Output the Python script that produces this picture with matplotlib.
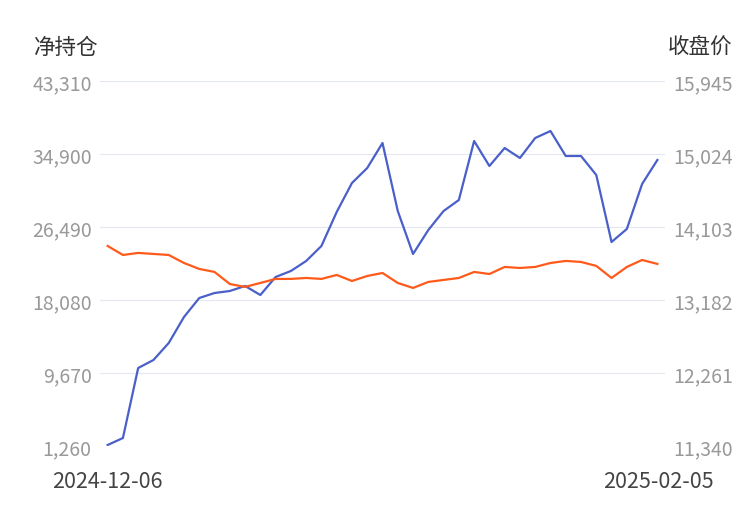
import matplotlib
matplotlib.use("Agg")
import matplotlib.pyplot as plt

plt.rcParams['font.family'] = ['Noto Sans CJK SC', 'DejaVu Sans']

net_pos = [1375, 2180, 10246, 11168, 13126, 16122, 18310, 18886, 19117, 19693, 18656, 20730,
           21421, 22573, 24301, 28218, 31559, 33287, 36167, 28333, 23379, 26144, 28333, 29600,
           36398, 33517, 35591, 34439, 36743, 37549, 34669, 34669, 32480, 24762, 26259, 31443, 34208]
close = [13864, 13750, 13776, 13763, 13750, 13649, 13574, 13536, 13384, 13347, 13397, 13448,
         13448, 13460, 13448, 13498, 13422, 13485, 13523, 13397, 13334, 13410, 13435, 13460,
         13536, 13510, 13599, 13586, 13599, 13649, 13675, 13662, 13612, 13460, 13599, 13687, 13637]
left_ticks = [1260, 9670, 18080, 26490, 34900, 43310]
right_ticks = [11340, 12261, 13182, 14103, 15024, 15945]
date_labels = ["2024-12-06", "2025-02-05"]

fig = plt.figure(figsize=(7.5, 5.1), dpi=100)
ax = fig.add_axes([100/750, 1-447/510, 565/750, 365/510])
ax2 = ax.twinx()
x = list(range(len(net_pos)))
ax.plot(x, net_pos, color='#4a5fc9', lw=1.6)
ax2.plot(x, close, color='#ff5a1a', lw=1.6)
ax.set_xlim(-0.5, len(x) - 0.5)
ax.set_ylim(left_ticks[0], left_ticks[-1])
ax2.set_ylim(right_ticks[0], right_ticks[-1])
ax.set_yticks(left_ticks)
ax.set_yticklabels([f"{v:,}" for v in left_ticks])
ax2.set_yticks(right_ticks)
ax2.set_yticklabels([f"{v:,}" for v in right_ticks])
ax.grid(axis='y', color='#e3e7ef', lw=0.8)
ax.set_axisbelow(True)
for a in (ax, ax2):
    for s in a.spines.values():
        s.set_visible(False)
    a.tick_params(length=0, labelsize=14, colors='#999999', pad=6)
ax.set_xticks([])
fig.text(52/750, 1-482/510, date_labels[0], fontsize=15.5, color='#444444', va='center', ha='left')
fig.text(714/750, 1-482/510, date_labels[1], fontsize=15.5, color='#444444', va='center', ha='right')
fig.text(34/750, 1-48/510, "净持仓", fontsize=15.5, color='#333333', va='center', ha='left')
fig.text(732/750, 1-48/510, "收盘价", fontsize=15.5, color='#333333', va='center', ha='right')
fig.savefig("out.png", dpi=100)
